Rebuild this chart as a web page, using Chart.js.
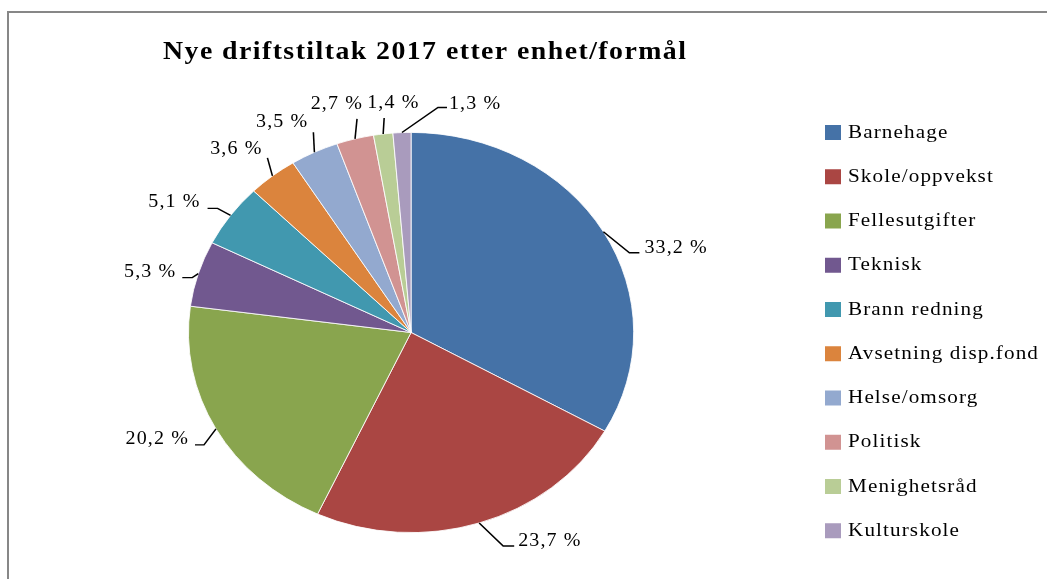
<!DOCTYPE html>
<html><head><meta charset="utf-8">
<script src="https://cdn.jsdelivr.net/npm/chart.js@4"></script>
<style>html,body{margin:0;padding:0;background:#fff;overflow:hidden}canvas{display:block}</style>
</head><body>
<canvas id="c" width="1047" height="579"></canvas>
<script>
const title = 'Nye driftstiltak 2017 etter enhet/formål';
const categories = ['Barnehage','Skole/oppvekst','Fellesutgifter','Teknisk','Brann redning','Avsetning disp.fond','Helse/omsorg','Politisk','Menighetsråd','Kulturskole'];
const shares = [33.2, 23.7, 20.2, 5.3, 5.1, 3.6, 3.5, 2.7, 1.4, 1.3];
const colors = ['#4572A7','#AA4643','#89A54E','#71588F','#4198AF','#DB843D','#93A9CF','#D19392','#B9CD96','#A99BBD'];

// horizontal stretch of the whole drawing (the reference pie is an ellipse)
const S = 1.1125;
// label leader layout, in screen pixels relative to the slice's edge point
const labelLayout = [
  {ex:26, ey:21, tail:10, align:'left', tx:5, ty:0},
  {ex:24, ey:23, tail:11, align:'left', tx:4, ty:0},
  {ex:-12, ey:16, tail:-9, align:'right', tx:-6, ty:-1},
  {ex:-6, ey:4, tail:-10, align:'right', tx:-6, ty:-1},
  {ex:-13, ey:-7, tail:-10, align:'right', tx:-7, ty:-1},
  {ex:-5, ey:-18, tail:0, align:'right', tx:-5, ty:-4},
  {ex:-1, ey:-20, tail:0, align:'right', tx:-5, ty:-5},
  {ex:2, ey:-20, tail:0, align:'right', tx:6, ty:-10},
  {ex:1, ey:-16, tail:0, align:'left', tx:-17, ty:-10},
  {ex:36, ey:-25, tail:9, align:'left', tx:2, ty:1}
];

const fmt = v => v.toFixed(1).replace('.', ',') + ' %';

const stretch = {
  id: 'stretch',
  beforeDraw(chart) {
    const ctx = chart.ctx;
    ctx.save();
    ctx.fillStyle = '#fff';
    ctx.fillRect(0, 0, chart.width, chart.height);
    ctx.strokeStyle = '#878787';
    ctx.lineWidth = 2;
    ctx.strokeRect(8, 12, 1200, 800);
    ctx.restore();
    ctx.save();
    ctx.scale(S, 1);
    ctx.save();
    ctx.font = 'bold 25px "Liberation Serif", serif';
    ctx.letterSpacing = '1.3px';
    ctx.fillStyle = '#000';
    ctx.textAlign = 'left';
    ctx.textBaseline = 'alphabetic';
    ctx.fillText(title, 163 / S, 59);
    ctx.restore();
  },
  afterDatasetsDraw(chart) {
    const ctx = chart.ctx;
    const meta = chart.getDatasetMeta(0);
    const vals = chart.data.datasets[0].data;
    ctx.save();
    ctx.font = '18px "Liberation Serif", serif';
    ctx.letterSpacing = '1px';
    ctx.fillStyle = '#000';
    ctx.strokeStyle = '#000';
    ctx.lineWidth = 1.4;
    ctx.textBaseline = 'alphabetic';
    meta.data.forEach((arc, i) => {
      const p = arc.getProps(['x','y','startAngle','endAngle','outerRadius'], true);
      const mid = (p.startAngle + p.endAngle) / 2;
      const ax = p.x + p.outerRadius * Math.cos(mid);
      const ay = p.y + p.outerRadius * Math.sin(mid);
      const L = labelLayout[i];
      const exx = ax + L.ex / S, eyy = ay + L.ey;
      const tx = exx + L.tail / S;
      ctx.beginPath();
      ctx.moveTo(ax, ay);
      ctx.lineTo(exx, eyy);
      if (L.tail) ctx.lineTo(tx, eyy);
      ctx.stroke();
      ctx.textAlign = L.align;
      ctx.fillText(fmt(vals[i]), tx + L.tx / S, eyy + L.ty);
    });
    // legend
    ctx.font = '19px "Liberation Serif", serif';
    ctx.letterSpacing = '1px';
    ctx.textAlign = 'left';
    chart.data.labels.forEach((lab, i) => {
      const y = 132.5 + i * 44.25;
      ctx.fillStyle = chart.data.datasets[0].backgroundColor[i];
      ctx.fillRect(825 / S, y - 7.5, 16 / S, 15);
      ctx.fillStyle = '#000';
      ctx.fillText(lab, 848 / S, y + 5);
    });
    ctx.restore();
  },
  afterDraw(chart) {
    chart.ctx.restore();
  }
};

new Chart(document.getElementById('c'), {
  type: 'pie',
  data: {
    labels: categories,
    datasets: [{
      data: shares,
      backgroundColor: colors,
      borderColor: '#ffffff',
      borderWidth: 0.8,
      hoverOffset: 0,
      offset: 0
    }]
  },
  options: {
    responsive: false,
    animation: false,
    events: [],
    layout: { padding: { left: 169, right: 477, top: 132, bottom: 46 } },
    plugins: {
      legend: { display: false },
      tooltip: { enabled: false },
      title: { display: false }
    }
  },
  plugins: [stretch]
});
</script>
</body></html>
